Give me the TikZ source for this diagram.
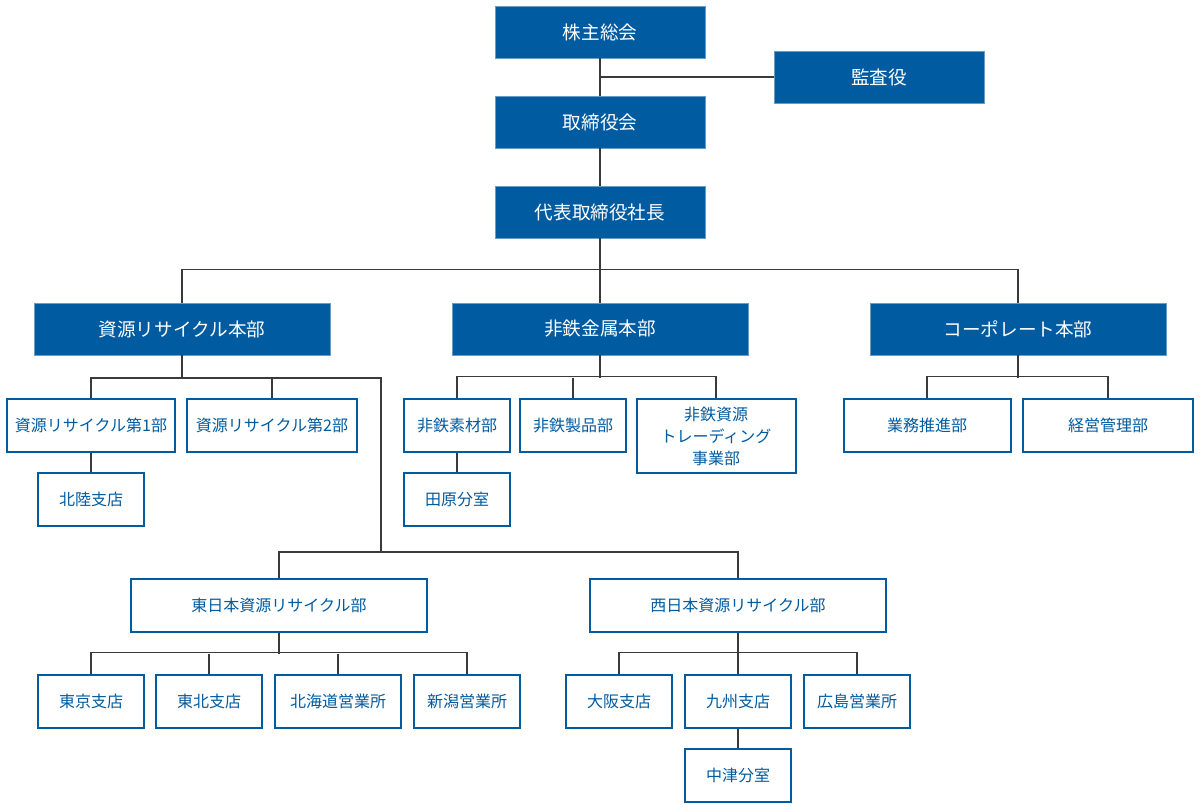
\documentclass[tikz,border=0pt]{standalone}
\usepackage{fontspec}
\setmainfont{Noto Sans CJK JP}
\definecolor{corpblue}{HTML}{005BA0}
\definecolor{linegray}{HTML}{3A3A3A}

\begin{document}
\begin{tikzpicture}[x=0.5pt, y=-0.5pt,
	topbox/.style={draw=corpblue!60, fill=corpblue, text=white, minimum width=105pt, minimum height=26pt, inner sep=0pt, font=\fontsize{9.3}{11}\selectfont},
	hqbox/.style={topbox, minimum width=148pt},
	unitbox/.style={draw=corpblue, line width=1pt, fill=white, text=corpblue, minimum width=53pt, minimum height=26.5pt, inner sep=0pt, align=center, font=\fontsize{8}{11}\selectfont},
	link/.style={draw=linegray, line width=0.6pt}]
	\useasboundingbox (0,0) rectangle (1200,810);

	\node [topbox] (soukai) at (600, 32) {株主総会};
	\node [topbox] (kansa) at (879, 77) {監査役};
	\node [topbox] (torishimari) at (600, 122) {取締役会};
	\node [topbox] (shacho) at (600, 212) {代表取締役社長};

	\node [hqbox] (shigen) at (182, 329) {資源リサイクル本部};
	\node [hqbox] (hitetsu) at (600, 329) {非鉄金属本部};
	\node [hqbox] (corp) at (1018, 329) {コーポレート本部};

	\node [unitbox, minimum width=84pt] (dai1) at (91, 425) {資源リサイクル第1部};
	\node [unitbox, minimum width=85pt] (dai2) at (272, 425) {資源リサイクル第2部};
	\node [unitbox] (hokuriku) at (91, 499) {北陸支店};

	\node [unitbox] (sozai) at (457, 425) {非鉄素材部};
	\node [unitbox] (seihin) at (573, 425) {非鉄製品部};
	\node [unitbox, minimum width=79.5pt, minimum height=37pt] (trading) at (716, 436) {非鉄資源\\トレーディング\\事業部};
	\node [unitbox] (tahara) at (457, 499) {田原分室};

	\node [unitbox, minimum width=83.5pt] (gyomu) at (927, 425) {業務推進部};
	\node [unitbox, minimum width=85pt] (keiei) at (1108, 425) {経営管理部};

	\node [unitbox, minimum width=148pt] (higashi) at (279, 605) {東日本資源リサイクル部};
	\node [unitbox, minimum width=148pt] (nishi) at (738, 605) {西日本資源リサイクル部};

	\node [unitbox] (tokyo) at (91, 701) {東京支店};
	\node [unitbox] (tohoku) at (209, 701) {東北支店};
	\node [unitbox, minimum width=63pt] (hokkaido) at (338, 701) {北海道営業所};
	\node [unitbox] (niigata) at (467, 701) {新潟営業所};

	\node [unitbox] (osaka) at (619, 701) {大阪支店};
	\node [unitbox] (kyushu) at (738, 701) {九州支店};
	\node [unitbox] (hiroshima) at (857, 701) {広島営業所};
	\node [unitbox] (nakatsu) at (738, 775) {中津分室};

	\coordinate (kansajct) at (600, 77);
	\coordinate (shigenjct) at (381, 378);
	\coordinate (regionjct) at (381, 552);

	\begin{scope}[on background layer/.try]
	\draw [link] (soukai) -- (torishimari);
	\draw [link] (kansajct) -- (kansa);
	\draw [link] (torishimari) -- (shacho);
	\draw [link] (shacho) -- (hitetsu);
	\draw [link] (shigen.north) -- ++(0,-33) -| (corp.north);

	\draw [link] (shigen.south) -- (shigen.south |- shigenjct);
	\draw [link] (dai1.north) |- (shigenjct) -- (regionjct);
	\draw [link] (dai2.north) -- (dai2.north |- shigenjct);
	\draw [link] (dai1) -- (hokuriku);
	\draw [link] (higashi.north) |- (regionjct) -| (nishi.north);

	\draw [link] (sozai.north) -- ++(0,-21) -| (trading.north);
	\draw [link] (hitetsu.south) -- (hitetsu.south |- shigenjct);
	\draw [link] (seihin.north) -- (seihin.north |- shigenjct);
	\draw [link] (sozai) -- (tahara);

	\draw [link] (gyomu.north) -- ++(0,-21) -| (keiei.north);
	\draw [link] (corp.south) -- (corp.south |- shigenjct);

	\draw [link] (tokyo.north) -- ++(0,-21) -| (niigata.north);
	\draw [link] (higashi.south) -- (higashi.south |- 0,654);
	\draw [link] (tohoku.north) -- (tohoku.north |- 0,654);
	\draw [link] (hokkaido.north) -- (hokkaido.north |- 0,654);

	\draw [link] (osaka.north) -- ++(0,-21) -| (hiroshima.north);
	\draw [link] (nishi) -- (kyushu);
	\draw [link] (kyushu) -- (nakatsu);
	\end{scope}
\end{tikzpicture}
\end{document}
